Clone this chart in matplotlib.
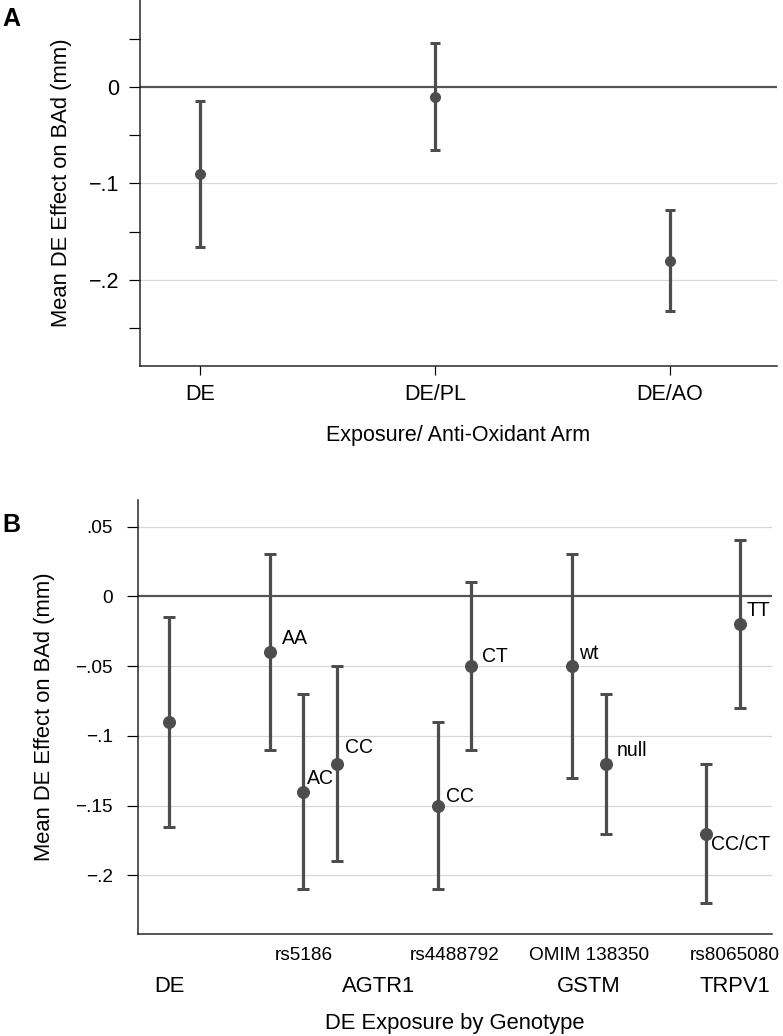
import matplotlib
matplotlib.use('Agg')
import matplotlib.pyplot as plt
from matplotlib.ticker import FixedLocator

plt.rcParams['font.family'] = ['Liberation Sans', 'DejaVu Sans']

# panel A: DE effect by anti-oxidant arm
armLabels = ['DE', 'DE/PL', 'DE/AO']
armMean = [-0.09, -0.01, -0.18]
armLow = [-0.166, -0.065, -0.232]
armHigh = [-0.0145, 0.045, -0.127]
armTicks = [0, -0.1, -0.2]
armTickLabels = ['0', '\u2212.1', '\u2212.2']
armMinor = [0.05, -0.05, -0.15, -0.25]

# panel B: DE effect by genotype
snpNames = ['rs5186', 'rs4488792', 'OMIM 138350', 'rs8065080']
geneNames = ['AGTR1', 'GSTM', 'TRPV1']
geneSnps = [[0, 1], [2], [3]]
genoLabels = [['AA', 'AC', 'CC'], ['CC', 'CT'], ['wt', 'null'], ['CC/CT', 'TT']]
genoMean = [-0.09, -0.04, -0.14, -0.12, -0.15, -0.05, -0.05, -0.12, -0.17, -0.02]
genoLow = [-0.165, -0.11, -0.21, -0.19, -0.21, -0.11, -0.13, -0.17, -0.22, -0.08]
genoHigh = [-0.0145, 0.03, -0.07, -0.05, -0.09, 0.01, 0.03, -0.07, -0.12, 0.04]
genoTicks = [0.05, 0, -0.05, -0.1, -0.15, -0.2]
genoTickLabels = ['.05', '0', '\u2212.05', '\u2212.1', '\u2212.15', '\u2212.2']

# label offsets (points) for the genotype names
labelOffsets = [(12, 14), (4, 13), (8, 16), (8, 9), (11, 10), (7, 13), (11, 13), (5, -11), (7, 14)]

barColor = '#4d4d4d'
gridColor = '#d6d6d6'

fig = plt.figure(figsize=(783 / 72, 1036 / 72), dpi=72)


def styleAxes(ax):
    for side in ['top', 'right']:
        ax.spines[side].set_visible(False)
    for side in ['left', 'bottom']:
        ax.spines[side].set_linewidth(1.5)
        ax.spines[side].set_color('#222222')
    ax.axhline(0, color='#555555', lw=2.2, zorder=1)


# ---- panel A
ax1 = fig.add_axes([140 / 783, 1 - 366 / 1036, 637 / 783, 366 / 1036])
styleAxes(ax1)
xs = [i + 1 for i in range(len(armLabels))]
for t in armTicks[1:]:
    ax1.axhline(t, color=gridColor, lw=1.2, zorder=0)
lowErr = [m - l for m, l in zip(armMean, armLow)]
highErr = [h - m for m, h in zip(armMean, armHigh)]
ax1.errorbar(xs, armMean, yerr=[lowErr, highErr], fmt='o', color=barColor,
             ms=10, elinewidth=3.2, capsize=5, capthick=3, zorder=3)
ax1.set_xlim(0.745, 3.455)
ax1.set_ylim(-0.289, 0.09)
ax1.set_xticks(xs)
ax1.set_xticklabels(armLabels)
ax1.set_yticks(armTicks)
ax1.set_yticklabels(armTickLabels)
ax1.yaxis.set_minor_locator(FixedLocator(armMinor))
ax1.tick_params(axis='y', which='both', length=11, width=1.2, pad=10, labelsize=21.5)
ax1.tick_params(axis='x', length=9, width=1.2, pad=9, labelsize=21.5)
ax1.set_xlabel('Exposure/ Anti-Oxidant Arm', fontsize=21.5)
ax1.xaxis.set_label_coords(0.5, -0.16)
ax1.set_ylabel('Mean DE Effect on BAd (mm)', fontsize=22)
ax1.yaxis.set_label_coords(-0.107, 0.5)

# ---- panel B
ax2 = fig.add_axes([138 / 783, 1 - 934 / 1036, 634 / 783, 434 / 1036])
styleAxes(ax2)

# positions: DE first, then genotype blocks separated by gaps
pos = [1]
blockCenters = []
cur = 1
for labels in genoLabels:
    block = [cur + 3 + i for i in range(len(labels))]
    pos.extend(block)
    blockCenters.append(sum(block) / len(block))
    cur = block[-1]

for t in genoTicks:
    if t != 0:
        ax2.axhline(t, color=gridColor, lw=1.2, zorder=0)
lowErr = [m - l for m, l in zip(genoMean, genoLow)]
highErr = [h - m for m, h in zip(genoMean, genoHigh)]
ax2.errorbar(pos, genoMean, yerr=[lowErr, highErr], fmt='o', color=barColor,
             ms=12, elinewidth=3.2, capsize=6, capthick=3, zorder=3)

flatLabels = [l for labels in genoLabels for l in labels]
for i, lab in enumerate(flatLabels):
    dx, dy = labelOffsets[i]
    ax2.annotate(lab, (pos[i + 1], genoMean[i + 1]), xytext=(dx, dy),
                 textcoords='offset points', ha='left', va='center', fontsize=19.5)

ax2.set_xlim(0.077, 18.95)
ax2.set_ylim(-0.242, 0.069)
ax2.set_xticks([])
ax2.set_yticks(genoTicks)
ax2.set_yticklabels(genoTickLabels)
ax2.tick_params(axis='y', length=11, width=1.2, pad=14, labelsize=19)

# the last snp label sits a bit right of its block
snpShift = [0, 0, 0, 0.35]
snpX = [c + s for c, s in zip(blockCenters, snpShift)]
for name, x in zip(snpNames, snpX):
    ax2.annotate(name, (x, 0), xycoords=('data', 'axes fraction'), xytext=(0, -21),
                 textcoords='offset points', ha='center', va='center', fontsize=19)
ax2.annotate('DE', (pos[0], 0), xycoords=('data', 'axes fraction'), xytext=(0, -53),
             textcoords='offset points', ha='center', va='center', fontsize=22)
for gene, idx in zip(geneNames, geneSnps):
    x = sum(snpX[j] for j in idx) / len(idx)
    ax2.annotate(gene, (x, 0), xycoords=('data', 'axes fraction'), xytext=(0, -53),
                 textcoords='offset points', ha='center', va='center', fontsize=22)
ax2.annotate('DE Exposure by Genotype', (0.5, 0), xycoords='axes fraction', xytext=(0, -89),
             textcoords='offset points', ha='center', va='center', fontsize=22)
ax2.set_ylabel('Mean DE Effect on BAd (mm)', fontsize=22)
ax2.yaxis.set_label_coords(-0.131, 0.5)

fig.text(2 / 783, 1 - 26 / 1036, 'A', fontsize=25, fontweight='bold', ha='left', va='baseline')
fig.text(2 / 783, 1 - 532 / 1036, 'B', fontsize=25, fontweight='bold', ha='left', va='baseline')

fig.savefig('out.png', dpi=72)
